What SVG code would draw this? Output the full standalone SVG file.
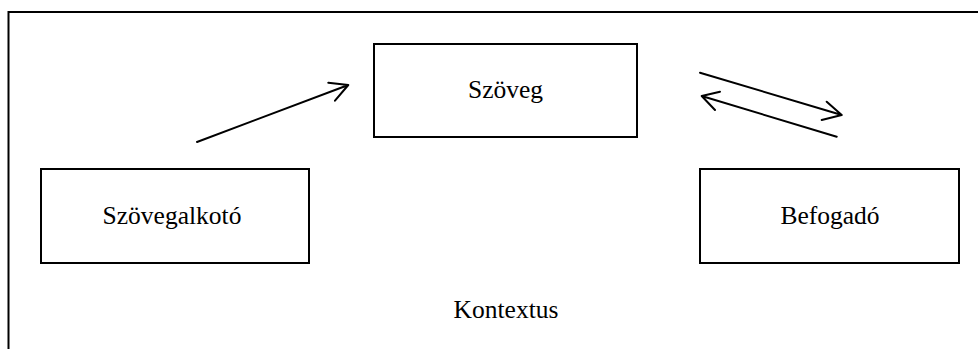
<svg xmlns="http://www.w3.org/2000/svg" width="978" height="349" viewBox="0 0 978 349">
<style>
.box{fill:#fff;stroke:#000;stroke-width:2}
.lbl{font-family:"Liberation Serif","Times New Roman",serif;font-size:25.5px;fill:#000;text-anchor:middle}
.ln{fill:none;stroke:#000;stroke-width:2;stroke-linecap:round;stroke-linejoin:round}
</style>
<rect width="978" height="349" fill="#fff"/>
<g id="kontextus">
<path d="M8.5,349 V12 H978" fill="none" stroke="#000" stroke-width="2"/>
<text class="lbl" x="506" y="318">Kontextus</text>
</g>
<g id="szoveg">
<rect class="box" x="374" y="44" width="263" height="93"/>
<text class="lbl" x="505.5" y="98">Szöveg</text>
</g>
<g id="szovegalkoto">
<rect class="box" x="41" y="169" width="268" height="94"/>
<text class="lbl" x="172" y="224">Szövegalkotó</text>
</g>
<g id="befogado">
<rect class="box" x="700" y="169" width="259" height="94"/>
<text class="lbl" x="830" y="224">Befogadó</text>
</g>
<g id="connectors">
<path class="ln" d="M197,142 L348.3,85 M328.3,82.7 L348.3,85 L335,100.7"/>
<path class="ln" d="M700,72.7 L841.7,115 M826.7,101.7 L841.7,115 L821.7,120"/>
<path class="ln" d="M836.7,136.7 L701.7,96 M720,91.7 L701.7,96 L715,110"/>
</g>
</svg>
